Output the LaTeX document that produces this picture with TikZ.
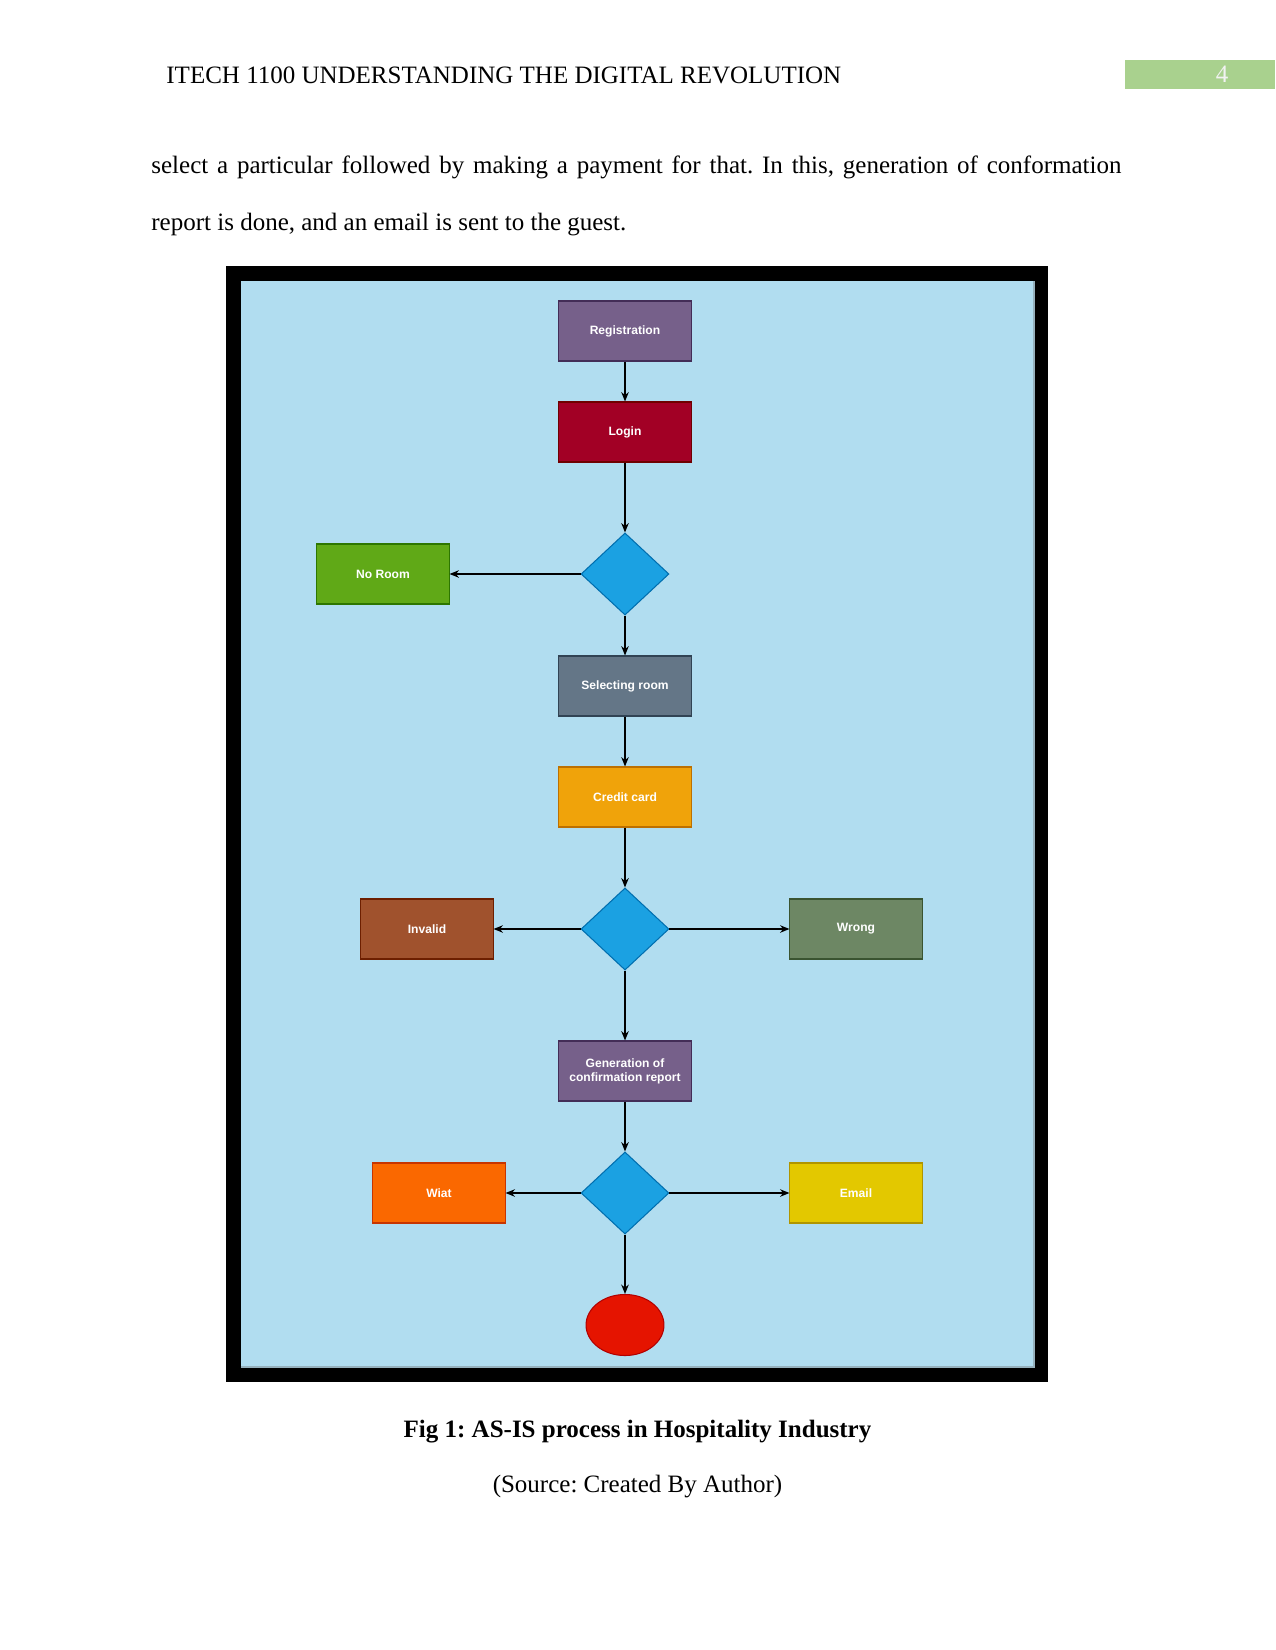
\documentclass[tikz,border=0pt]{standalone}
\usepackage{fontspec}
\setmainfont{Liberation Serif}
\newfontfamily\boxfont{Liberation Sans}
\usetikzlibrary{arrows.meta, shapes.geometric}
\frenchspacing

\definecolor{pagegreen}{HTML}{A9D18E}
\definecolor{bgblue}{HTML}{B1DDF0}
\definecolor{purpleF}{HTML}{76608A}\definecolor{purpleD}{HTML}{432D57}
\definecolor{crimsonF}{HTML}{A20025}\definecolor{crimsonD}{HTML}{6F0000}
\definecolor{cyanF}{HTML}{1BA1E2}\definecolor{cyanD}{HTML}{006EAF}
\definecolor{greenF}{HTML}{60A917}\definecolor{greenD}{HTML}{2D7600}
\definecolor{slateF}{HTML}{647687}\definecolor{slateD}{HTML}{314354}
\definecolor{amberF}{HTML}{F0A30A}\definecolor{amberD}{HTML}{BD7000}
\definecolor{brownF}{HTML}{A0522D}\definecolor{brownD}{HTML}{6D1F00}
\definecolor{oliveF}{HTML}{6D8764}\definecolor{oliveD}{HTML}{3A5431}
\definecolor{orangeF}{HTML}{FA6800}\definecolor{orangeD}{HTML}{C73500}
\definecolor{yellowF}{HTML}{E3C800}\definecolor{yellowD}{HTML}{B09500}
\definecolor{redF}{HTML}{E51400}\definecolor{redD}{HTML}{B20000}

\begin{document}
\begin{tikzpicture}[
    x=0.48pt, y=-0.48pt,
    box/.style={rectangle, minimum width=63.4pt, minimum height=28.8pt, inner sep=1pt, line width=0.5pt,
        font=\boxfont\bfseries\fontsize{5.8}{6.6}\selectfont, text=white, align=center},
    dec/.style={diamond, fill=cyanF, draw=cyanD, line width=0.5pt, minimum width=42.2pt, minimum height=39.4pt, inner sep=0pt},
    endpt/.style={ellipse, fill=redF, draw=redD, line width=0.5pt, minimum width=37.4pt, minimum height=29.3pt, inner sep=0pt},
    arr/.style={-{Stealth[length=4.5pt, width=3.6pt]}, line width=0.6pt, black},
    pagetext/.style={font=\fontsize{12}{14}\selectfont, inner sep=0pt},
]

% ── Page ──
\fill[white] (0,0) rectangle (1275,1650);
\useasboundingbox (0,0) rectangle (1275,1650);

% ── Header ──
\node[pagetext, anchor=base west] (head) at (166,84) {ITECH 1100 UNDERSTANDING THE DIGITAL REVOLUTION};
\fill[pagegreen] (1125,60) rectangle (1275,89);
\node[pagetext, anchor=base, text=white!95!black] (pgnum) at (1222,83) {4};

% ── Body text ──
\node[pagetext, anchor=base west] (line1) at (151,174) {\makebox[465.6pt][s]{select a particular followed by making a payment for that. In this, generation of conformation}};
\node[pagetext, anchor=base west] (line2) at (151,231) {report is done, and an email is sent to the guest.};

% ── Figure frame ──
\fill[black] (226,266) rectangle (1048,1382);
\fill[bgblue] (241,281) rectangle (1034,1367);
\draw[black!10!bgblue!70!gray, line width=0.6pt] (241,1367) -- (1034,1367) -- (1034,281);

% ── Flow nodes ──
\node[box, fill=purpleF, draw=purpleD] (reg) at (625,331) {Registration};
\node[box, fill=crimsonF, draw=crimsonD] (login) at (625,432) {Login};
\node[dec] (d1) at (625,574) {};
\node[box, fill=greenF, draw=greenD] (noroom) at (383,574) {No Room};
\node[box, fill=slateF, draw=slateD] (sel) at (625,686) {Selecting room};
\node[box, fill=amberF, draw=amberD] (card) at (625,797) {Credit card};
\node[dec] (d2) at (625,929) {};
\node[box, fill=brownF, draw=brownD] (invalid) at (427,929) {Invalid};
\node[box, fill=oliveF, draw=oliveD] (wrong) at (856,929) {Wrong};
\node[box, fill=purpleF, draw=purpleD] (gen) at (625,1071) {Generation of\\confirmation report};
\node[dec] (d3) at (625,1193) {};
\node[box, fill=orangeF, draw=orangeD] (wiat) at (439,1193) {Wiat};
\node[box, fill=yellowF, draw=yellowD] (email) at (856,1193) {Email};
\node[endpt] (stop) at (625,1325) {};

% ── Connectors ──
\draw[arr] (reg) -- (login);
\draw[arr] (login) -- (d1);
\draw[arr] (d1) -- (noroom);
\draw[arr] (d1) -- (sel);
\draw[arr] (sel) -- (card);
\draw[arr] (card) -- (d2);
\draw[arr] (d2) -- (invalid);
\draw[arr] (d2) -- (wrong);
\draw[arr] (d2) -- (gen);
\draw[arr] (gen) -- (d3);
\draw[arr] (d3) -- (wiat);
\draw[arr] (d3) -- (email);
\draw[arr] (d3) -- (stop);

% ── Caption ──
\node[pagetext, anchor=base, font=\fontsize{12}{14}\selectfont\bfseries] (cap) at (637.5,1437) {Fig 1: AS-IS process in Hospitality Industry};
\node[pagetext, anchor=base] (src) at (637.5,1492) {(Source: Created By Author)};

\end{tikzpicture}
\end{document}
